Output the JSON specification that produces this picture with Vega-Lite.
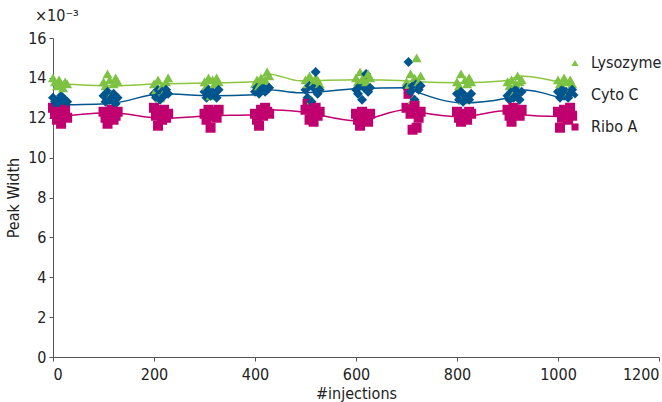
{
  "$schema": "https://vega.github.io/schema/vega-lite/v6.json",
  "width": 606,
  "height": 319,
  "autosize": {"type": "none"},
  "padding": {"left": 53, "top": 38, "right": 3, "bottom": 45},
  "background": "white",
  "title": {"text": "×10⁻³", "anchor": "start", "frame": "group", "dx": -18, "offset": 6, "fontSize": 16, "fontWeight": "normal", "font": "DejaVu Sans Condensed", "color": "#222"},
  "datasets": {
    "pts": [
      {"x":0,"Lysozyme":14.0,"Cyto C":13.0,"Ribo A":12.5},
      {"x":4,"Lysozyme":13.8,"Cyto C":12.8,"Ribo A":12.2},
      {"x":8,"Lysozyme":13.6,"Cyto C":12.6,"Ribo A":11.9},
      {"x":12,"Lysozyme":13.9,"Cyto C":12.9,"Ribo A":12.3},
      {"x":16,"Lysozyme":13.7,"Cyto C":13.1,"Ribo A":11.7},
      {"x":20,"Lysozyme":13.5,"Cyto C":12.7,"Ribo A":12.1},
      {"x":24,"Lysozyme":13.8,"Cyto C":12.9,"Ribo A":12.4},
      {"x":28,"Lysozyme":13.7,"Cyto C":12.8,"Ribo A":12.0},
      {"x":100,"Lysozyme":13.8,"Cyto C":13.1,"Ribo A":12.3},
      {"x":104,"Lysozyme":13.6,"Cyto C":12.8,"Ribo A":12.0},
      {"x":108,"Lysozyme":14.2,"Cyto C":13.3,"Ribo A":11.7},
      {"x":112,"Lysozyme":13.9,"Cyto C":12.9,"Ribo A":12.2},
      {"x":116,"Lysozyme":13.2,"Cyto C":13.0,"Ribo A":12.4},
      {"x":120,"Lysozyme":13.7,"Cyto C":13.2,"Ribo A":11.9},
      {"x":124,"Lysozyme":14.0,"Cyto C":12.7,"Ribo A":12.1},
      {"x":128,"Lysozyme":13.8,"Cyto C":13.0,"Ribo A":12.3},
      {"x":200,"Lysozyme":13.7,"Cyto C":13.2,"Ribo A":12.5},
      {"x":204,"Lysozyme":13.4,"Cyto C":13.0,"Ribo A":12.1},
      {"x":208,"Lysozyme":13.9,"Cyto C":13.4,"Ribo A":11.6},
      {"x":212,"Lysozyme":13.0,"Cyto C":12.9,"Ribo A":12.3},
      {"x":216,"Lysozyme":13.6,"Cyto C":13.3,"Ribo A":11.9},
      {"x":220,"Lysozyme":13.3,"Cyto C":13.1,"Ribo A":12.4},
      {"x":224,"Lysozyme":13.8,"Cyto C":13.4,"Ribo A":12.0},
      {"x":228,"Lysozyme":14.0,"Cyto C":13.2,"Ribo A":12.2},
      {"x":300,"Lysozyme":13.8,"Cyto C":13.3,"Ribo A":12.2},
      {"x":304,"Lysozyme":13.6,"Cyto C":13.0,"Ribo A":11.9},
      {"x":308,"Lysozyme":14.0,"Cyto C":13.4,"Ribo A":12.4},
      {"x":312,"Lysozyme":13.1,"Cyto C":13.1,"Ribo A":11.5},
      {"x":316,"Lysozyme":13.9,"Cyto C":13.3,"Ribo A":12.1},
      {"x":320,"Lysozyme":13.7,"Cyto C":13.2,"Ribo A":12.3},
      {"x":324,"Lysozyme":14.0,"Cyto C":13.0,"Ribo A":12.0},
      {"x":328,"Lysozyme":13.8,"Cyto C":13.4,"Ribo A":12.4},
      {"x":400,"Lysozyme":13.7,"Cyto C":13.3,"Ribo A":12.2},
      {"x":404,"Lysozyme":13.9,"Cyto C":13.5,"Ribo A":11.9},
      {"x":408,"Lysozyme":13.6,"Cyto C":13.2,"Ribo A":11.6},
      {"x":412,"Lysozyme":14.0,"Cyto C":13.4,"Ribo A":12.4},
      {"x":416,"Lysozyme":13.8,"Cyto C":13.5,"Ribo A":12.1},
      {"x":420,"Lysozyme":13.9,"Cyto C":13.3,"Ribo A":12.5},
      {"x":424,"Lysozyme":14.3,"Cyto C":13.4,"Ribo A":12.3},
      {"x":428,"Lysozyme":14.1,"Cyto C":13.5,"Ribo A":12.2},
      {"x":500,"Lysozyme":13.9,"Cyto C":13.4,"Ribo A":12.4},
      {"x":504,"Lysozyme":13.7,"Cyto C":13.0,"Ribo A":12.7},
      {"x":508,"Lysozyme":14.1,"Cyto C":13.6,"Ribo A":11.9},
      {"x":512,"Lysozyme":12.9,"Cyto C":12.8,"Ribo A":12.2},
      {"x":516,"Lysozyme":13.8,"Cyto C":13.5,"Ribo A":11.8},
      {"x":520,"Lysozyme":14.0,"Cyto C":14.3,"Ribo A":12.5},
      {"x":524,"Lysozyme":13.9,"Cyto C":13.2,"Ribo A":12.1},
      {"x":528,"Lysozyme":13.7,"Cyto C":13.4,"Ribo A":12.3},
      {"x":600,"Lysozyme":14.0,"Cyto C":13.4,"Ribo A":12.2},
      {"x":604,"Lysozyme":13.8,"Cyto C":13.2,"Ribo A":11.9},
      {"x":608,"Lysozyme":14.3,"Cyto C":13.6,"Ribo A":11.6},
      {"x":612,"Lysozyme":13.9,"Cyto C":12.9,"Ribo A":12.3},
      {"x":616,"Lysozyme":14.1,"Cyto C":13.5,"Ribo A":12.0},
      {"x":620,"Lysozyme":13.8,"Cyto C":14.2,"Ribo A":12.1},
      {"x":624,"Lysozyme":14.2,"Cyto C":13.3,"Ribo A":11.8},
      {"x":628,"Lysozyme":14.0,"Cyto C":13.5,"Ribo A":12.2},
      {"x":700,"Lysozyme":13.8,"Cyto C":13.5,"Ribo A":12.5},
      {"x":704,"Lysozyme":13.6,"Cyto C":14.8,"Ribo A":13.2},
      {"x":708,"Lysozyme":14.2,"Cyto C":13.3,"Ribo A":12.2},
      {"x":712,"Lysozyme":12.9,"Cyto C":13.6,"Ribo A":11.4},
      {"x":716,"Lysozyme":14.0,"Cyto C":12.9,"Ribo A":12.6},
      {"x":720,"Lysozyme":15.0,"Cyto C":13.7,"Ribo A":11.5},
      {"x":724,"Lysozyme":13.8,"Cyto C":13.4,"Ribo A":12.0},
      {"x":728,"Lysozyme":14.1,"Cyto C":13.6,"Ribo A":12.3},
      {"x":800,"Lysozyme":13.8,"Cyto C":13.2,"Ribo A":12.3},
      {"x":804,"Lysozyme":13.6,"Cyto C":12.9,"Ribo A":12.0},
      {"x":808,"Lysozyme":14.2,"Cyto C":13.3,"Ribo A":11.8},
      {"x":812,"Lysozyme":12.9,"Cyto C":12.8,"Ribo A":12.2},
      {"x":816,"Lysozyme":13.9,"Cyto C":13.1,"Ribo A":12.1},
      {"x":820,"Lysozyme":13.7,"Cyto C":13.0,"Ribo A":11.9},
      {"x":824,"Lysozyme":14.0,"Cyto C":12.9,"Ribo A":12.3},
      {"x":828,"Lysozyme":13.8,"Cyto C":13.2,"Ribo A":12.2},
      {"x":900,"Lysozyme":13.8,"Cyto C":13.1,"Ribo A":12.4},
      {"x":904,"Lysozyme":13.6,"Cyto C":12.9,"Ribo A":12.1},
      {"x":908,"Lysozyme":13.9,"Cyto C":13.3,"Ribo A":11.8},
      {"x":912,"Lysozyme":13.2,"Cyto C":13.0,"Ribo A":12.5},
      {"x":916,"Lysozyme":13.7,"Cyto C":13.4,"Ribo A":12.2},
      {"x":920,"Lysozyme":14.1,"Cyto C":13.2,"Ribo A":12.3},
      {"x":924,"Lysozyme":13.8,"Cyto C":12.9,"Ribo A":12.1},
      {"x":928,"Lysozyme":13.9,"Cyto C":13.3,"Ribo A":12.4},
      {"x":1000,"Lysozyme":13.9,"Cyto C":13.3,"Ribo A":12.3},
      {"x":1004,"Lysozyme":13.7,"Cyto C":13.0,"Ribo A":11.5},
      {"x":1008,"Lysozyme":13.6,"Cyto C":13.4,"Ribo A":12.0},
      {"x":1012,"Lysozyme":14.0,"Cyto C":13.1,"Ribo A":12.4},
      {"x":1016,"Lysozyme":13.8,"Cyto C":13.3,"Ribo A":12.2},
      {"x":1020,"Lysozyme":13.2,"Cyto C":13.0,"Ribo A":11.9},
      {"x":1024,"Lysozyme":13.9,"Cyto C":13.2,"Ribo A":12.5},
      {"x":1028,"Lysozyme":13.7,"Cyto C":13.4,"Ribo A":12.1}
    ],
    "lines": [
      {"x":10,"Lysozyme":13.7,"Cyto C":12.65,"Ribo A":12.05},
      {"x":115,"Lysozyme":13.6,"Cyto C":12.72,"Ribo A":12.25},
      {"x":215,"Lysozyme":13.7,"Cyto C":13.2,"Ribo A":11.97},
      {"x":315,"Lysozyme":13.75,"Cyto C":13.1,"Ribo A":12.1},
      {"x":400,"Lysozyme":13.8,"Cyto C":13.15,"Ribo A":12.15},
      {"x":425,"Lysozyme":14.2,"Cyto C":13.4,"Ribo A":12.4},
      {"x":490,"Lysozyme":13.85,"Cyto C":13.25,"Ribo A":12.3},
      {"x":600,"Lysozyme":13.9,"Cyto C":13.45,"Ribo A":11.85},
      {"x":700,"Lysozyme":13.85,"Cyto C":13.5,"Ribo A":12.4},
      {"x":720,"Lysozyme":13.8,"Cyto C":13.3,"Ribo A":12.3},
      {"x":810,"Lysozyme":13.75,"Cyto C":12.75,"Ribo A":12.05},
      {"x":895,"Lysozyme":13.85,"Cyto C":12.97,"Ribo A":12.35},
      {"x":925,"Lysozyme":14.1,"Cyto C":13.4,"Ribo A":12.15},
      {"x":1010,"Lysozyme":13.75,"Cyto C":12.95,"Ribo A":12.05}
    ]
  },
  "encoding": {
    "x": {"field": "x", "type": "quantitative", "scale": {"domain": [0, 1200], "nice": false}, "axis": {"title": "#injections", "values": [0,200,400,600,800,1000,1200], "format": "d", "grid": false}},
    "y": {"field": "v", "type": "quantitative", "scale": {"domain": [0, 16], "nice": false}, "axis": {"title": "Peak Width", "values": [0,2,4,6,8,10,12,14,16], "grid": false}}
  },
  "layer": [
    {
      "data": {"name": "lines"},
      "transform": [{"fold": ["Lysozyme"], "as": ["s", "v"]}],
      "mark": {"type": "line", "strokeWidth": 1.5, "interpolate": "monotone", "color": "#8cc63f"},
      "encoding": {}
    },
    {
      "data": {"name": "lines"},
      "transform": [{"fold": ["Cyto C"], "as": ["s", "v"]}],
      "mark": {"type": "line", "strokeWidth": 1.5, "interpolate": "monotone", "color": "#00558f"},
      "encoding": {}
    },
    {
      "data": {"name": "lines"},
      "transform": [{"fold": ["Ribo A"], "as": ["s", "v"]}],
      "mark": {"type": "line", "strokeWidth": 1.5, "interpolate": "monotone", "color": "#c1006f"},
      "encoding": {}
    },
    {
      "data": {"name": "pts"},
      "transform": [{"fold": ["Lysozyme", "Cyto C", "Ribo A"], "as": ["s", "v"]}],
      "mark": {"type": "point", "filled": true, "opacity": 1, "size": 100},
      "encoding": {
        "color": {"field": "s", "type": "nominal", "scale": {"domain": ["Lysozyme", "Cyto C", "Ribo A"], "range": ["#7dc242", "#00558f", "#c1006f"]}, "legend": {"title": null}},
        "shape": {"field": "s", "type": "nominal", "scale": {"domain": ["Lysozyme", "Cyto C", "Ribo A"], "range": ["triangle-up", "diamond", "square"]}, "legend": {"title": null}}
      }
    }
  ],
  "config": {
    "view": {"stroke": null},
    "font": "DejaVu Sans Condensed",
    "axis": {
      "domainColor": "#555", "tickColor": "#555", "tickSize": 4,
      "labelFont": "DejaVu Sans Condensed", "labelFontSize": 16, "labelColor": "#222",
      "titleFont": "DejaVu Sans Condensed", "titleFontSize": 16, "titleFontWeight": "normal", "titleColor": "#222"
    },
    "axisX": {"labelPadding": 5, "titlePadding": 3},
    "axisY": {"labelPadding": 3, "titlePadding": 6},
    "legend": {
      "orient": "none", "legendX": 514, "legendY": 17,
      "labelFont": "DejaVu Sans Condensed", "labelFontSize": 16, "labelColor": "#222",
      "symbolSize": 50, "rowPadding": 16, "labelOffset": 8
    }
  }
}
